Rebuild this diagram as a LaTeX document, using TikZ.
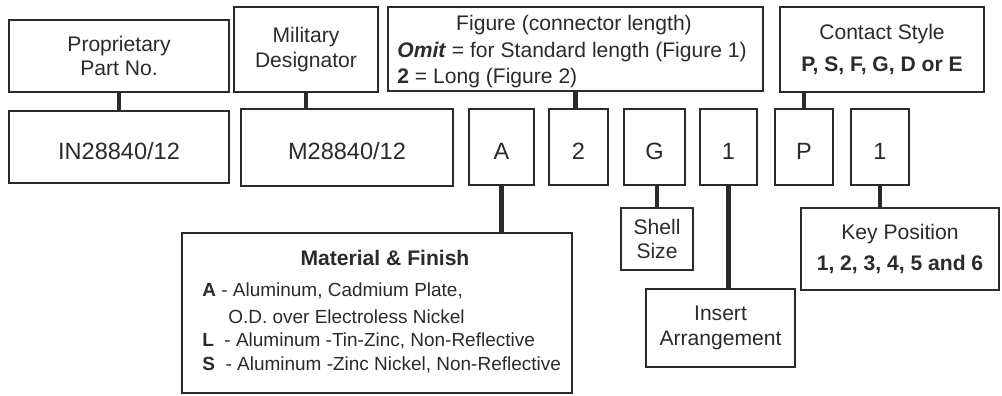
\documentclass[tikz,border=0pt]{standalone}
\usepackage{fontspec}
\setmainfont{Liberation Sans}
\definecolor{inkgray}{HTML}{2B2B2B}

\tikzset{
  box/.style={shape=rectangle, draw=inkgray, line width=1.3pt, fill=white, inner sep=0pt, align=center, text=inkgray, font=\fontsize{12}{14}\selectfont},
  code/.style={box, font=\fontsize{13.4}{16}\selectfont, text height=14.2pt, text depth=0pt},
  note/.style={inner sep=0pt, text=inkgray, font=\fontsize{12}{14}\selectfont},
  item/.style={inner sep=0pt, anchor=base west, text=inkgray, font=\fontsize{10.8}{13}\selectfont},
  link/.style={draw=inkgray, line width=2.7pt},
}

\begin{document}
\begin{tikzpicture}
		\useasboundingbox (0,0) rectangle (20.04,7.92);
		% Top row of descriptions:
		\node[box, minimum width=4.40cm, minimum height=1.44cm] (prop) at (2.38, 6.80){Proprietary\\Part No.};
		\node[box, minimum width=2.88cm, minimum height=1.70cm] (mil) at (6.12, 6.93){Military\\Designator};
		\node[box, minimum width=7.50cm, minimum height=1.68cm] (fig) at (11.51, 6.94){};
		\node[note, anchor=base] (figa) at (11.48, 7.31){Figure (connector length)};
		\node[note, anchor=base west] (figb) at (7.94, 6.77){\textbf{\textit{Omit}} = for Standard length (Figure 1)};
		\node[note, anchor=base west] (figc) at (7.94, 6.25){\textbf{2} = Long (Figure 2)};
		\node[box, minimum width=4.08cm, minimum height=1.70cm, font=\fontsize{12}{18}\selectfont] (con) at (17.64, 6.93){Contact Style\\\textbf{P, S, F, G, D or E}};
		% Part number row:
		\node[code, minimum width=4.40cm, minimum height=1.44cm] (pn) at (2.38, 4.98){IN28840/12};
		\node[code, minimum width=4.24cm, minimum height=1.54cm] (mpn) at (6.94, 4.97){M28840/12};
		\node[code, minimum width=1.30cm, minimum height=1.52cm] (a) at (10.03, 4.98){A};
		\node[code, minimum width=1.18cm, minimum height=1.52cm] (two) at (11.57, 4.98){2};
		\node[code, minimum width=1.22cm, minimum height=1.52cm] (g) at (13.09, 4.98){G};
		\node[code, minimum width=1.14cm, minimum height=1.52cm] (one) at (14.57, 4.98){1};
		\node[code, minimum width=1.16cm, minimum height=1.52cm] (p) at (16.08, 4.98){P};
		\node[code, minimum width=1.16cm, minimum height=1.52cm] (key) at (17.60, 4.98){1};
		% Bottom descriptions:
		\node[box, minimum width=7.80cm, minimum height=3.20cm] (mat) at (7.54, 1.66){};
		\node[note, anchor=base, font=\bfseries\fontsize{12}{14}\selectfont] (matt) at (7.70, 2.61){Material \& Finish};
		\node[item] (mata) at (4.04, 1.98){\textbf{A} - Aluminum, Cadmium Plate,};
		\node[item] (matb) at (4.56, 1.44){O.D. over Electroless Nickel};
		\node[item] (matl) at (4.04, 0.98){\textbf{L}\ \ - Aluminum -Tin-Zinc, Non-Reflective};
		\node[item] (mats) at (4.04, 0.50){\textbf{S}\ \ - Aluminum -Zinc Nickel, Non-Reflective};
		\node[box, minimum width=1.44cm, minimum height=1.24cm] (shell) at (13.14, 3.14){Shell\\Size};
		\node[box, minimum width=2.98cm, minimum height=1.56cm] (ins) at (14.41, 1.36){Insert\\Arrangement};
		\node[box, minimum width=3.96cm, minimum height=1.64cm, font=\fontsize{12}{18}\selectfont] (keypos) at (18.00, 2.94){Key Position\\\textbf{1, 2, 3, 4, 5 and 6}};
		% Wires:
		\draw[link] (prop.south) -- (pn.north);
		\draw[link] (mil.south) -- (mil.south |- mpn.north);
		\draw[link] (fig.south) -- (fig.south |- two.north);
		\draw[link] (p.north) -- (p.north |- con.south);
		\draw[link] (a.south) -- (a.south |- mat.north);
		\draw[link] (shell.north) -- (shell.north |- g.south);
		\draw[link] (one.south) -- (one.south |- ins.north);
		\draw[link] (key.south) -- (key.south |- keypos.north);
	\end{tikzpicture}
\end{document}
